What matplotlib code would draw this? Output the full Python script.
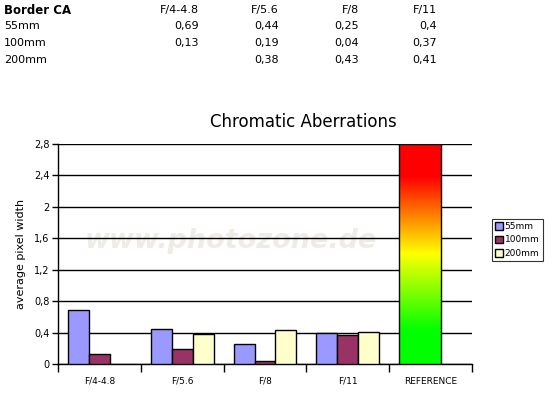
import numpy as np
import matplotlib
matplotlib.use("Agg")
import matplotlib.pyplot as plt
from matplotlib.colors import LinearSegmentedColormap
from matplotlib.patches import Rectangle

apertures = ["F/4-4.8", "F/5.6", "F/8", "F/11"]
categories = apertures + ["REFERENCE"]
series_names = ["55mm", "100mm", "200mm"]
ca_55 = [0.69, 0.44, 0.25, 0.40]
ca_100 = [0.13, 0.19, 0.04, 0.37]
ca_200 = [np.nan, 0.38, 0.43, 0.41]
reference_value = 2.8
yticks = [0, 0.4, 0.8, 1.2, 1.6, 2.0, 2.4, 2.8]

colors = ["#9999ff", "#993366", "#ffffcc"]
W, H = 556, 393

fig = plt.figure(figsize=(W / 100, H / 100), dpi=100)
plt.rcParams['font.family'] = ['DejaVu Sans']

# table above the chart
def fy(y):
    return 1 - y / H

fig.text(4 / W, fy(10), "Border CA", fontsize=8.5, fontweight="bold", va="center")
col_right = [199, 279, 359, 437]
for x, lab in zip(col_right, apertures):
    fig.text(x / W, fy(10), lab, fontsize=8, ha="right", va="center")
row_y = [26, 43, 60]
for ry, name, vals in zip(row_y, series_names, [ca_55, ca_100, ca_200]):
    fig.text(4 / W, fy(ry), name, fontsize=8, va="center")
    for x, v in zip(col_right, vals):
        if not np.isnan(v):
            fig.text(x / W, fy(ry), f"{v:g}".replace(".", ","), fontsize=8,
                     ha="right", va="center")

# chart area
ax = fig.add_axes([58 / W, (H - 364) / H, 414 / W, 220 / H])
ax.set_axisbelow(True)
n = len(categories)
bw = 21 / 83
margin = 10 / 83

for k, vals in enumerate([ca_55, ca_100, ca_200]):
    xs = np.arange(len(apertures)) - 0.5 + margin + k * bw
    ax.bar(xs, vals, width=bw, align="edge", color=colors[k],
           edgecolor="black", linewidth=1, zorder=3, label=series_names[k])

# reference bar with gradient
rx = len(apertures) - 0.5 + margin
cmap = LinearSegmentedColormap.from_list(
    "ref", [(0, "#00ff00"), (0.15, "#00ff00"), (0.5, "#ffff00"),
            (0.85, "#ff0000"), (1, "#ff0000")])
grad = np.linspace(1, 0, 256).reshape(-1, 1)
ax.imshow(grad, cmap=cmap, aspect="auto",
          extent=[rx, rx + 2 * bw, 0, reference_value], zorder=3)
ax.add_patch(Rectangle((rx, 0), 2 * bw, reference_value, fill=False,
                       edgecolor="black", linewidth=1, zorder=4))

ax.set_xlim(-0.5, n - 0.5)
ax.set_ylim(0, 2.8)
ax.set_yticks(yticks)
ax.set_yticklabels([f"{v:g}".replace(".", ",") for v in yticks], fontsize=7)
ax.yaxis.grid(True, color="black", linewidth=1)
ax.set_xticks(np.arange(n + 1) - 0.5)
ax.set_xticklabels([])
ax.set_xticks(np.arange(n), minor=True)
ax.set_xticklabels(categories, minor=True, fontsize=6.5)
ax.tick_params(axis="x", which="minor", length=0, pad=9)
ax.tick_params(axis="x", which="major", length=6, direction="out", width=1)
ax.tick_params(axis="y", length=4, width=1, direction="out", pad=2)
for s in ["top", "right"]:
    ax.spines[s].set_visible(False)
ax.spines["left"].set_linewidth(1)
ax.spines["bottom"].set_linewidth(1)
ax.set_ylabel("average pixel width", fontsize=8, labelpad=6)

fig.text(303 / W, fy(122), "Chromatic Aberrations", fontsize=12,
         ha="center", va="center")

# watermark behind the grid
ax.text(231 / W, fy(241), "www.photozone.de", transform=fig.transFigure,
        fontsize=19.5, fontweight="bold", style="italic", color="#efece7",
        ha="center", va="center", zorder=0.2)

leg = fig.legend(loc="center", bbox_to_anchor=(517 / W, fy(240)), fontsize=6.5,
                 frameon=True, fancybox=False, edgecolor="black",
                 handlelength=0.9, handleheight=0.9, handletextpad=0.2,
                 borderpad=0.35, labelspacing=0.5, borderaxespad=0)
leg.get_frame().set_linewidth(0.8)

fig.savefig("out.png", dpi=100)
